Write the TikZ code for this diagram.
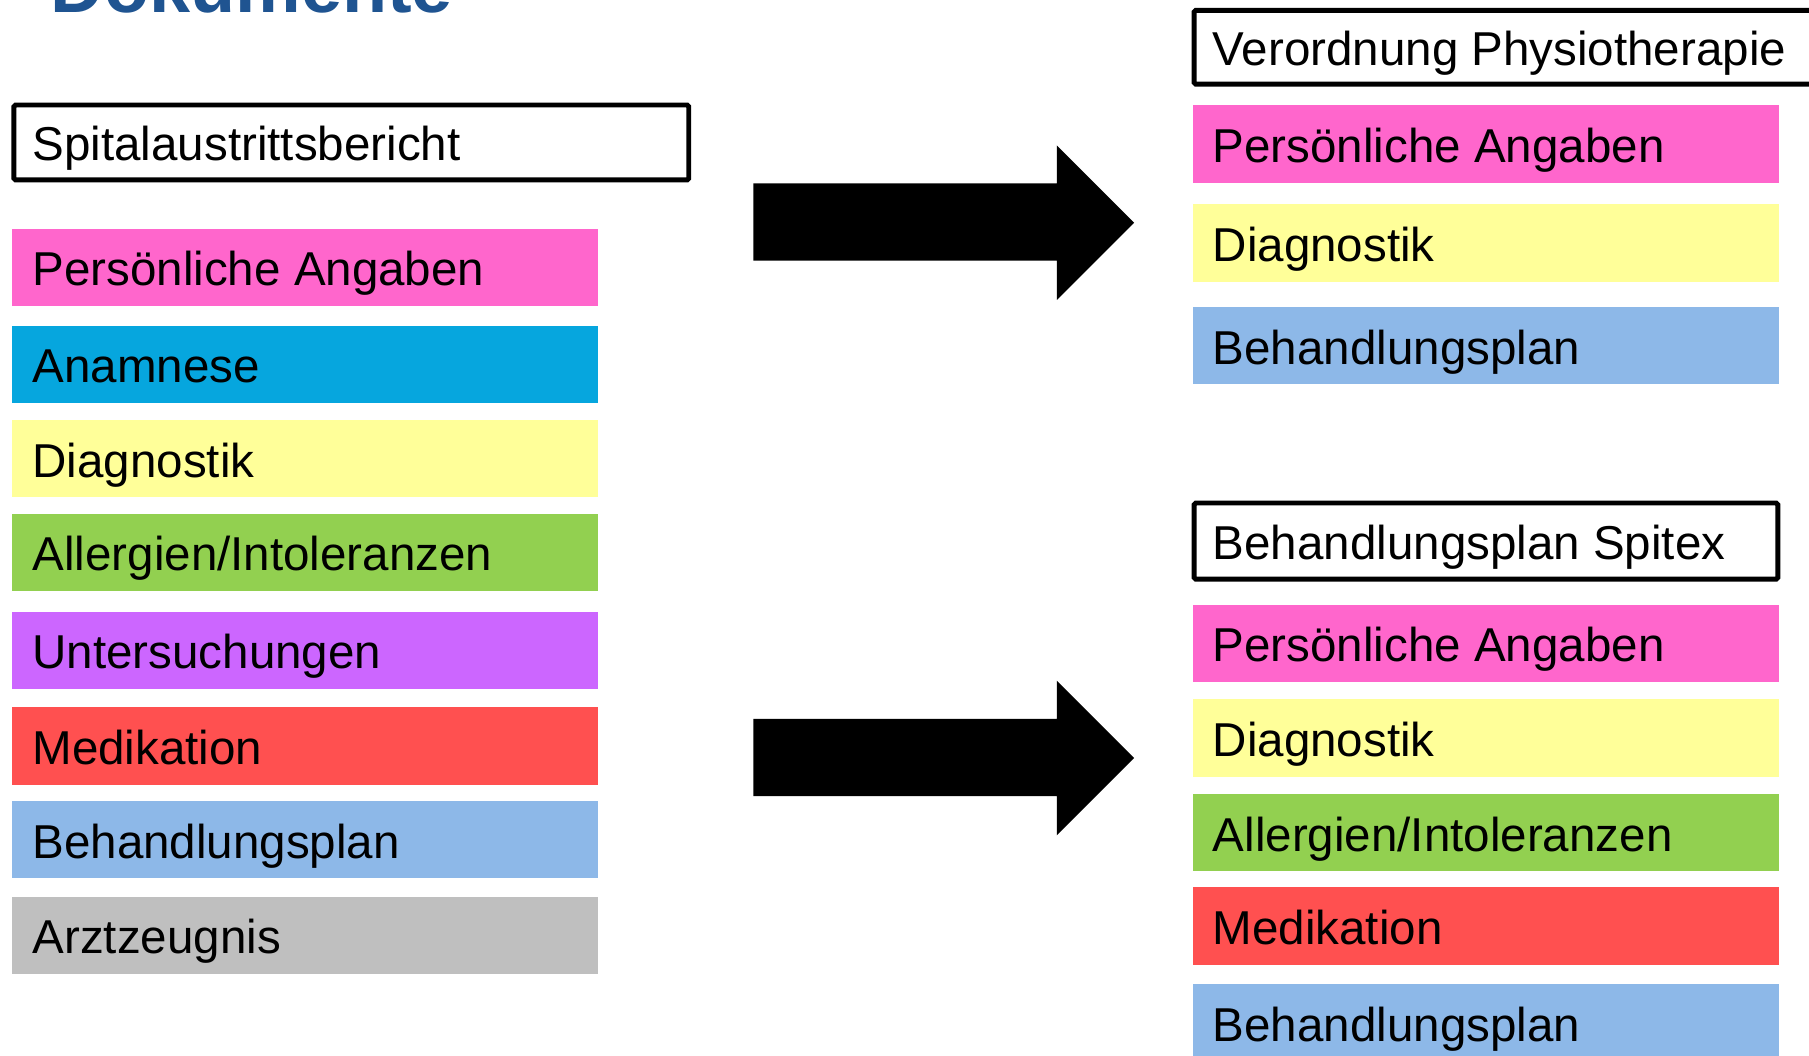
\documentclass[tikz,border=0pt]{standalone}
\usepackage{fontspec}
\setmainfont{Liberation Sans}
\definecolor{pinkc}{HTML}{FF66CC}
\definecolor{cyanc}{HTML}{06A6DE}
\definecolor{yellowc}{HTML}{FFFF99}
\definecolor{greenc}{HTML}{92D050}
\definecolor{purplec}{HTML}{CC66FF}
\definecolor{redc}{HTML}{FF5050}
\definecolor{bluec}{HTML}{8DB8E8}
\definecolor{grayc}{HTML}{BFBFBF}
\definecolor{titlec}{HTML}{1F5491}
\tikzset{
  bar/.style={draw=none, inner sep=0pt, minimum width=508pt, minimum height=67pt, anchor=north west},
  lbl/.style={anchor=base west, inner sep=0pt, font=\fontsize{41.2}{41.2}\selectfont},
  framebox/.style={draw=black, line width=4.3pt, rounded corners=1.5pt},
  blockarrow/.style={fill=black}
}
\begin{document}
\begin{tikzpicture}[x=1pt,y=-1pt]
\useasboundingbox (0,0) rectangle (1568,915);
\clip (0,0) rectangle (1568,915);
\fill[white] (0,0) rectangle (1568,915);
% title (cut off at top)
\node[anchor=base west, inner sep=0pt, text=titlec, font=\fontsize{64}{64}\selectfont\bfseries] (title) at (44,11) {Dokumente};
% left column
\draw[framebox] (12,91) rectangle (597,156);
\node[lbl] (lh) at (28,139) {Spitalaustrittsbericht};
\node[bar, fill=pinkc]   (l1) at (10,198) {};
\node[bar, fill=cyanc]   (l2) at (10,282) {};
\node[bar, fill=yellowc] (l3) at (10,364) {};
\node[bar, fill=greenc]  (l4) at (10,445) {};
\node[bar, fill=purplec] (l5) at (10,530) {};
\node[bar, fill=redc]    (l6) at (10,613) {};
\node[bar, fill=bluec]   (l7) at (10,694) {};
\node[bar, fill=grayc]   (l8) at (10,777) {};
\node[lbl] (t1) at ([xshift=18pt,yshift=-16pt]l1.west) {Persönliche Angaben};
\node[lbl] (t2) at ([xshift=18pt,yshift=-16pt]l2.west) {Anamnese};
\node[lbl] (t3) at ([xshift=18pt,yshift=-16pt]l3.west) {Diagnostik};
\node[lbl] (t4) at ([xshift=18pt,yshift=-16pt]l4.west) {Allergien/Intoleranzen};
\node[lbl] (t5) at ([xshift=18pt,yshift=-16pt]l5.west) {Untersuchungen};
\node[lbl] (t6) at ([xshift=18pt,yshift=-16pt]l6.west) {Medikation};
\node[lbl] (t7) at ([xshift=18pt,yshift=-16pt]l7.west) {Behandlungsplan};
\node[lbl] (t8) at ([xshift=18pt,yshift=-16pt]l8.west) {Arztzeugnis};
% arrows
\fill[blockarrow] (653,159) -- (916,159) -- (916,126) -- (983,193) -- (916,260) -- (916,226) -- (653,226) -- cycle;
\fill[blockarrow] (653,623) -- (916,623) -- (916,590) -- (983,657) -- (916,724) -- (916,690) -- (653,690) -- cycle;
% right top
\draw[framebox] (1035,9) rectangle (1600,73);
\node[lbl] (rh1) at (1051,57) {Verordnung Physiotherapie};
\node[bar, fill=pinkc]   (a1) at (1034,91) {};
\node[bar, fill=yellowc] (a2) at (1034,177) {};
\node[bar, fill=bluec]   (a3) at (1034,266) {};
\node[lbl] (u1) at ([xshift=17pt,yshift=-16pt]a1.west) {Persönliche Angaben};
\node[lbl] (u2) at ([xshift=17pt,yshift=-16pt]a2.west) {Diagnostik};
\node[lbl] (u3) at ([xshift=17pt,yshift=-16pt]a3.west) {Behandlungsplan};
% right bottom
\draw[framebox] (1035,436) rectangle (1541,502);
\node[lbl] (rh2) at (1051,485) {Behandlungsplan Spitex};
\node[bar, fill=pinkc]   (b1) at (1034,524) {};
\node[bar, fill=yellowc] (b2) at (1034,606) {};
\node[bar, fill=greenc]  (b3) at (1034,688) {};
\node[bar, fill=redc]    (b4) at (1034,769) {};
\node[bar, fill=bluec]   (b5) at (1034,853) {};
\node[lbl] (v1) at ([xshift=17pt,yshift=-16pt]b1.west) {Persönliche Angaben};
\node[lbl] (v2) at ([xshift=17pt,yshift=-16pt]b2.west) {Diagnostik};
\node[lbl] (v3) at ([xshift=17pt,yshift=-16pt]b3.west) {Allergien/Intoleranzen};
\node[lbl] (v4) at ([xshift=17pt,yshift=-16pt]b4.west) {Medikation};
\node[lbl] (v5) at ([xshift=17pt,yshift=-16pt]b5.west) {Behandlungsplan};
\end{tikzpicture}
\end{document}
